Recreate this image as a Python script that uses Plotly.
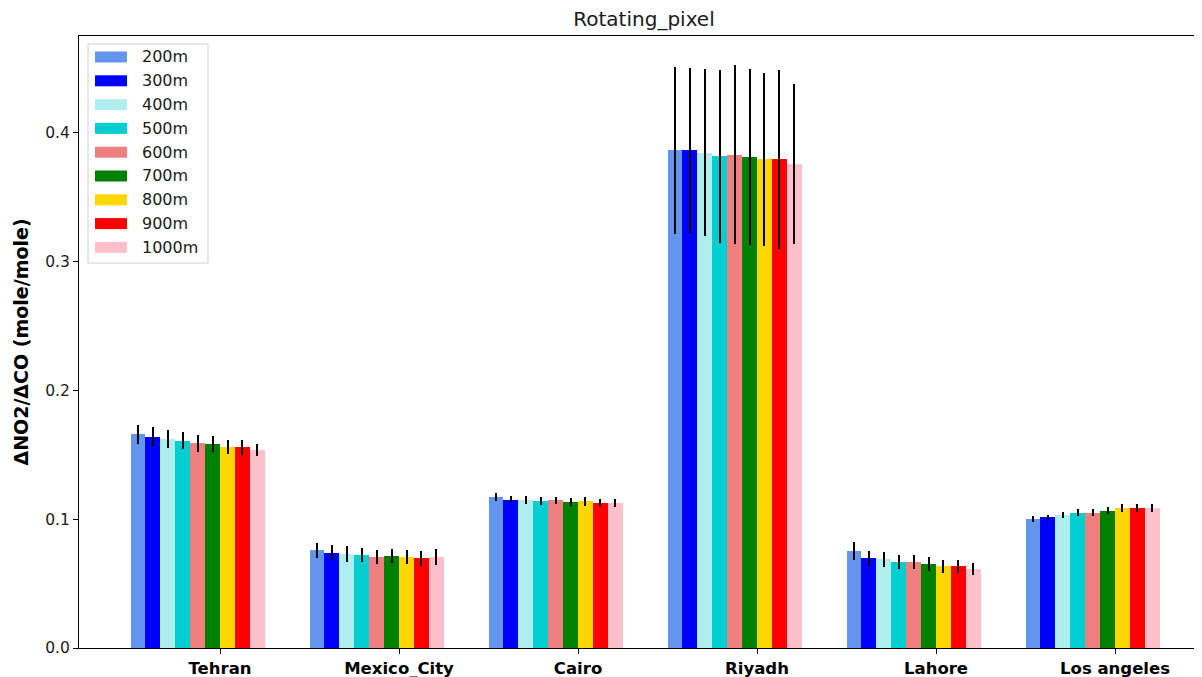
import plotly.graph_objects as go

cities = ["Tehran", "Mexico_City", "Cairo", "Riyadh", "Lahore", "Los angeles"]
series_names = ["200m", "300m", "400m", "500m", "600m", "700m", "800m", "900m", "1000m"]
colors = ["cornflowerblue", "blue", "paleturquoise", "darkturquoise", "lightcoral",
          "green", "gold", "red", "pink"]

# values[series][city]
v200 = [0.1658, 0.0758, 0.1171, 0.3863, 0.0750, 0.1003]
v300 = [0.1640, 0.0740, 0.1153, 0.3863, 0.0696, 0.1014]
v400 = [0.1620, 0.0729, 0.1153, 0.3846, 0.0688, 0.1032]
v500 = [0.1610, 0.0721, 0.1143, 0.3819, 0.0670, 0.1050]
v600 = [0.1588, 0.0706, 0.1146, 0.3830, 0.0670, 0.1050]
v700 = [0.1585, 0.0714, 0.1135, 0.3812, 0.0652, 0.1065]
v800 = [0.1560, 0.0706, 0.1138, 0.3794, 0.0634, 0.1084]
v900 = [0.1560, 0.0696, 0.1127, 0.3794, 0.0634, 0.1084]
v1000 = [0.1534, 0.0706, 0.1127, 0.3757, 0.0615, 0.1084]

e200 = [0.0073, 0.0060, 0.0030, 0.0648, 0.0070, 0.0022]
e300 = [0.0074, 0.0058, 0.0030, 0.0643, 0.0060, 0.0022]
e400 = [0.0069, 0.0060, 0.0031, 0.0650, 0.0058, 0.0023]
e500 = [0.0068, 0.0054, 0.0030, 0.0671, 0.0053, 0.0026]
e600 = [0.0066, 0.0056, 0.0029, 0.0696, 0.0053, 0.0026]
e700 = [0.0064, 0.0057, 0.0030, 0.0681, 0.0052, 0.0027]
e800 = [0.0054, 0.0054, 0.0033, 0.0669, 0.0049, 0.0031]
e900 = [0.0058, 0.0058, 0.0027, 0.0696, 0.0049, 0.0031]
e1000 = [0.0047, 0.0060, 0.0029, 0.0621, 0.0045, 0.0031]

values = [v200, v300, v400, v500, v600, v700, v800, v900, v1000]
errors = [e200, e300, e400, e500, e600, e700, e800, e900, e1000]

# page body has an 8px margin; lay the figure out so that screen pixels match
OFF = 8
SW, SH = 1202, 677          # screen size
W, H = SW - OFF, SH - OFF   # figure size
L, R, T, B = 79 - OFF, 0, 36 - OFF, SH - 648
bar_w = 1 / 12

fig = go.Figure()
for j, (name, col, vals, errs) in enumerate(zip(series_names, colors, values, errors)):
    xs = [i + (j - 5.5) * bar_w for i in range(len(cities))]
    fig.add_trace(go.Bar(
        x=xs, y=vals, width=bar_w, name=name, showlegend=False,
        marker=dict(color=col, line=dict(width=0)),
        error_y=dict(type="data", array=errs, visible=True, color="black",
                     thickness=2, width=0),
    ))

pw = W - L - R
ph = H - T - B


def px(x):
    return (x - OFF - L) / pw


def py(y):
    return (H - B - (y - OFF)) / ph


shapes = [dict(type="rect", xref="paper", yref="paper",
               x0=px(88), x1=px(208), y0=py(263), y1=py(44),
               line=dict(color="#d0d0d0", width=1), fillcolor="rgba(255,255,255,0.8)",
               layer="above")]
annotations = []
for j, (name, col) in enumerate(zip(series_names, colors)):
    yc = 57 + j * 23.8
    shapes.append(dict(type="rect", xref="paper", yref="paper",
                       x0=px(95), x1=px(127), y0=py(yc + 5.5), y1=py(yc - 5.5),
                       line=dict(width=0), fillcolor=col, layer="above"))
    annotations.append(dict(text=name, xref="paper", yref="paper",
                            x=px(140), y=py(yc), xanchor="left", yanchor="middle",
                            showarrow=False, font=dict(size=16, color="#1a1a1a")))

fig.update_layout(
    width=W, height=H,
    margin=dict(l=L, r=R, t=T, b=B, pad=0),
    plot_bgcolor="white", paper_bgcolor="white",
    font=dict(family="DejaVu Sans", color="#1a1a1a"),
    title=dict(text="Rotating_pixel", x=(644 - OFF) / W, xanchor="center",
               y=1 - (19 - OFF) / H, yanchor="middle", font=dict(size=20, color="#1a1a1a")),
    barmode="overlay",
    bargap=0,
    shapes=shapes,
    annotations=annotations,
    xaxis=dict(
        range=[-0.788, 5.486], tickmode="array",
        tickvals=list(range(len(cities))), ticktext=cities,
        showline=True, linecolor="black", linewidth=1.2, mirror=True,
        ticks="outside", ticklen=5, tickcolor="black",
        tickfont=dict(size=16.5, family="DejaVu Sans", weight="bold", color="black"),
        showgrid=False, zeroline=False,
    ),
    yaxis=dict(
        range=[0, 0.4752], tickmode="array",
        tickvals=[0.0, 0.1, 0.2, 0.3, 0.4], tickformat=".1f",
        showline=True, linecolor="black", linewidth=1.2, mirror=False,
        ticks="outside", ticklen=5, tickcolor="black",
        tickfont=dict(size=15.5, color="#1a1a1a"),
        showgrid=False, zeroline=False,
        title=dict(text="ΔNO2/ΔCO (mole/mole)", standoff=11,
                   font=dict(size=19, weight="bold", color="black")),
    ),
)

fig.write_html("out.html")
